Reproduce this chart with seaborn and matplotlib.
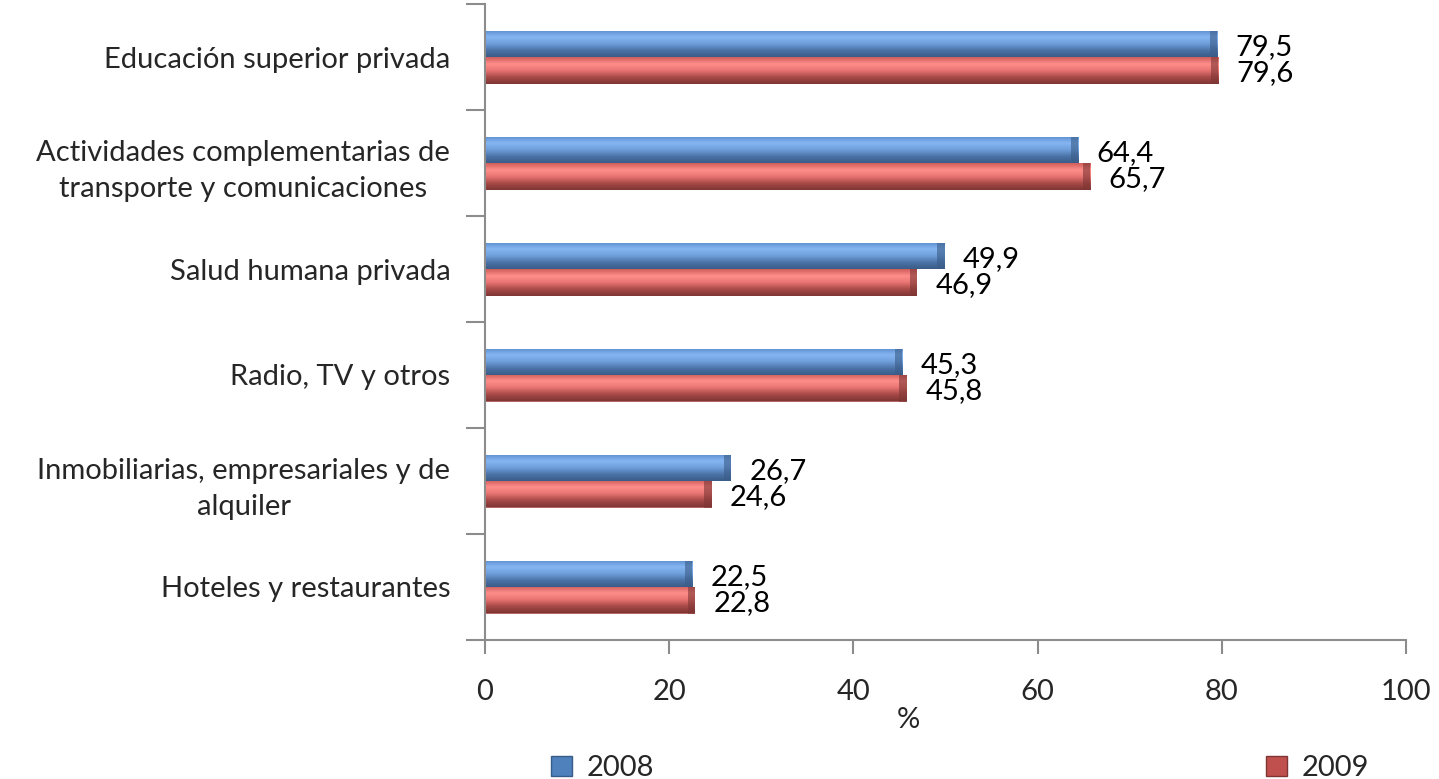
import numpy as np
import pandas as pd
import matplotlib
matplotlib.use("Agg")
import matplotlib.pyplot as plt
from matplotlib.colors import LinearSegmentedColormap
from matplotlib.patches import Rectangle
from matplotlib.ticker import FixedLocator
import seaborn as sns

categories = [
    "Educación superior privada",
    "Actividades complementarias de\ntransporte y comunicaciones",
    "Salud humana privada",
    "Radio, TV y otros",
    "Inmobiliarias, empresariales y de\nalquiler",
    "Hoteles y restaurantes",
]
values_2008 = [79.5, 64.4, 49.9, 45.3, 26.7, 22.5]
values_2009 = [79.6, 65.7, 46.9, 45.8, 24.6, 22.8]
years = ["2008", "2009"]
x_ticks = [0, 20, 40, 60, 80, 100]

df = pd.DataFrame({
    "categoria": categories * 2,
    "valor": values_2008 + values_2009,
    "año": [years[0]] * len(categories) + [years[1]] * len(categories),
})

sns.set_theme(style="white")
plt.rcParams["font.family"] = ["Lato", "DejaVu Sans"]

FS = 21
base_colors = {"2008": "#4F81BD", "2009": "#C0504D"}
# vertical shading for a bevelled look: edge, highlight, body, shadow
shades = {
    "2008": ["#5d8fd0", "#86b6f2", "#6f9fdc", "#4c74a8", "#3a5c88"],
    "2009": ["#cf5e5b", "#ff8f8c", "#e87472", "#a84a48", "#7e3634"],
}

fig = plt.figure(figsize=(14.39, 7.79), dpi=100)
ax = fig.add_axes([485 / 1439, 1 - 640 / 779, (1406 - 485) / 1439, (640 - 4) / 779])

sns.barplot(data=df, y="categoria", x="valor", hue="año", order=categories,
            hue_order=years, palette=base_colors, orient="h", width=0.5,
            edgecolor="white", linewidth=0.8, ax=ax, legend=False)

# overlay gradients on each bar
for container, yr in zip(ax.containers, years):
    cmap = LinearSegmentedColormap.from_list(f"bevel_{yr}", shades[yr])
    dark = shades[yr][-1]
    for patch in container:
        x0, y0 = patch.get_x(), patch.get_y()
        w, h = patch.get_width(), patch.get_height()
        grad = np.linspace(0, 1, 64).reshape(-1, 1)
        im = ax.imshow(grad, cmap=cmap, aspect="auto",
                       extent=(x0, x0 + w, y0 + h, y0), zorder=patch.get_zorder() + 0.1,
                       interpolation="bicubic")
        im.set_clip_path(patch)
        cap = Rectangle((x0 + w - 0.8, y0), 0.8, h, facecolor=dark, alpha=0.6,
                        edgecolor="none", zorder=patch.get_zorder() + 0.2)
        ax.add_patch(cap)
        cap.set_clip_path(patch)

# value labels
for container, vals in zip(ax.containers, [values_2008, values_2009]):
    for patch, v in zip(container, vals):
        yc = patch.get_y() + patch.get_height() / 2 + 0.03
        ax.text(patch.get_x() + patch.get_width() + 2.0, yc, f"{v:.1f}".replace(".", ","),
                ha="left", va="center", fontsize=FS, color="black")

ax.set_xlim(0, 100)
ax.set_ylim(len(categories) - 0.5, -0.5)
ax.set_xticks(x_ticks)
ax.set_xticklabels([str(t) for t in x_ticks], fontsize=FS)
ax.yaxis.set_minor_locator(FixedLocator(np.arange(-0.5, len(categories), 1.0)))
ax.tick_params(axis="y", which="major", length=0, pad=25, labelsize=FS)
ax.tick_params(axis="y", which="minor", length=14, width=1.5, color="#8c8c8c", left=True)
ax.tick_params(axis="x", which="major", length=10, width=1.5, color="#8c8c8c",
               bottom=True, pad=18)
for lab in ax.get_yticklabels():
    lab.set_multialignment("center")
    lab.set_linespacing(1.5)

ax.set_ylabel("")
ax.set_xlabel("%", fontsize=FS)
ax.xaxis.set_label_coords(0.46, -0.106)

for side in ["top", "right"]:
    ax.spines[side].set_visible(False)
for side in ["left", "bottom"]:
    ax.spines[side].set_color("#8c8c8c")
    ax.spines[side].set_linewidth(1.5)

handles = [Rectangle((0, 0), 1, 1, facecolor=base_colors[y], edgecolor=shades[y][-1]) for y in years]
fig.legend(handles, years, loc="center", bbox_to_anchor=(960 / 1439, 1 - 768 / 779),
           ncol=2, frameon=False, fontsize=FS, columnspacing=21, handlelength=0.7,
           handleheight=0.7, handletextpad=0.5)

fig.savefig("out.png", dpi=100, facecolor="white")
